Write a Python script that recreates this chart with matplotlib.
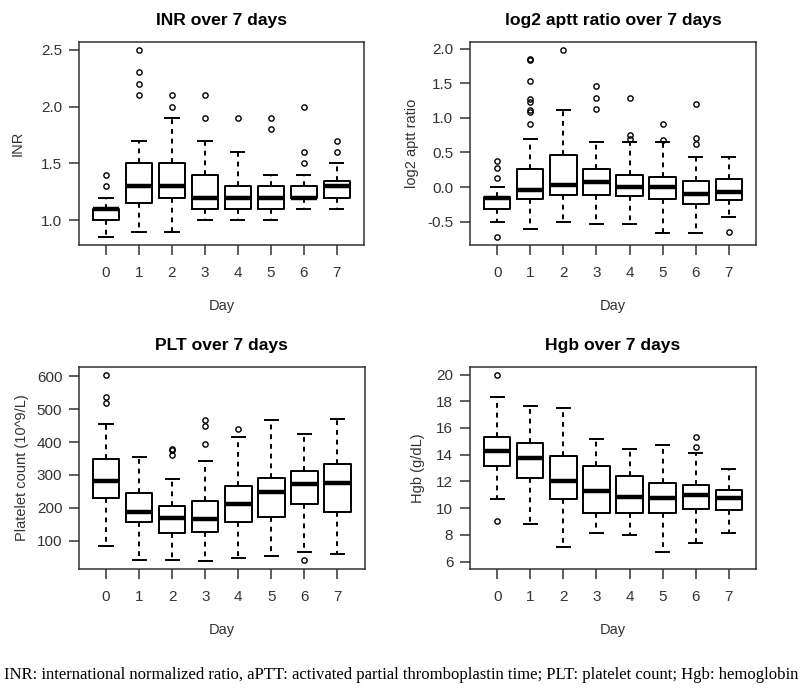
import matplotlib.pyplot as plt

days = [0, 1, 2, 3, 4, 5, 6, 7]

# INR
inr_lo = [0.85, 0.9, 0.9, 1.0, 1.0, 1.0, 1.1, 1.1]
inr_q1 = [1.0, 1.15, 1.2, 1.1, 1.1, 1.1, 1.2, 1.2]
inr_med = [1.1, 1.3, 1.3, 1.2, 1.2, 1.2, 1.2, 1.3]
inr_q3 = [1.1, 1.5, 1.5, 1.4, 1.3, 1.3, 1.3, 1.35]
inr_hi = [1.2, 1.7, 1.9, 1.7, 1.6, 1.4, 1.4, 1.5]
inr_out = [[1.3, 1.4], [2.1, 2.2, 2.3, 2.5], [2.0, 2.1], [1.9, 2.1],
           [1.9], [1.8, 1.9], [1.5, 1.6, 2.0], [1.6, 1.7]]

# log2 aptt ratio
aptt_lo = [-0.50, -0.61, -0.50, -0.54, -0.53, -0.66, -0.66, -0.44]
aptt_q1 = [-0.32, -0.18, -0.11, -0.11, -0.13, -0.18, -0.24, -0.19]
aptt_med = [-0.16, -0.05, 0.03, 0.07, 0.0, 0.0, -0.10, -0.07]
aptt_q3 = [-0.15, 0.26, 0.46, 0.26, 0.18, 0.15, 0.08, 0.11]
aptt_hi = [0.0, 0.70, 1.11, 0.65, 0.65, 0.65, 0.43, 0.43]
aptt_out = [[0.13, 0.27, 0.38, -0.73],
            [0.91, 1.09, 1.11, 1.23, 1.27, 1.53, 1.84, 1.86],
            [1.99], [1.13, 1.29, 1.46], [0.69, 0.75, 1.29],
            [0.68, 0.91], [0.63, 0.71, 1.20], [-0.65]]

# PLT
plt_lo = [83, 40, 40, 37, 46, 53, 67, 60]
plt_q1 = [231, 157, 123, 126, 157, 171, 211, 187]
plt_med = [280, 188, 170, 166, 211, 248, 272, 275]
plt_q3 = [347, 244, 205, 221, 265, 292, 313, 332]
plt_hi = [455, 353, 287, 343, 414, 468, 424, 471]
plt_out = [[518, 538, 605], [], [360, 375, 380], [393, 448, 467],
           [440], [], [40], []]

# Hgb
hgb_lo = [10.7, 8.8, 7.1, 8.1, 8.0, 6.7, 7.35, 8.1]
hgb_q1 = [13.15, 12.25, 10.7, 9.6, 9.6, 9.6, 9.9, 9.85]
hgb_med = [14.3, 13.75, 12.0, 11.25, 10.8, 10.75, 11.0, 10.75]
hgb_q3 = [15.3, 14.9, 13.9, 13.15, 12.4, 11.85, 11.75, 11.35]
hgb_hi = [18.3, 17.65, 17.5, 15.2, 14.4, 14.7, 14.1, 12.9]
hgb_out = [[9.0, 20.0], [], [], [], [], [], [14.6, 15.3], []]

caption = ("INR: international normalized ratio, aPTT: activated partial "
           "thromboplastin time; PLT: platelet count; Hgb: hemoglobin")

plt.rcParams['font.family'] = ['Liberation Sans', 'DejaVu Sans']

fig = plt.figure(figsize=(8, 6.95), dpi=100)

panels = [
    ('INR over 7 days', 'INR', inr_lo, inr_q1, inr_med, inr_q3, inr_hi, inr_out,
     [0.09875, 0.6475, 0.356, 0.292], (0.784, 2.566), [1.0, 1.5, 2.0, 2.5], -0.192),
    ('log2 aptt ratio over 7 days', 'log2 aptt ratio', aptt_lo, aptt_q1, aptt_med,
     aptt_q3, aptt_hi, aptt_out,
     [0.5875, 0.6475, 0.3575, 0.292], (-0.84, 2.10), [-0.5, 0.0, 0.5, 1.0, 1.5, 2.0], -0.18),
    ('PLT over 7 days', 'Platelet count (10^9/L)', plt_lo, plt_q1, plt_med, plt_q3,
     plt_hi, plt_out,
     [0.09875, 0.1813, 0.357, 0.2906], (14, 628), [100, 200, 300, 400, 500, 600], -0.175),
    ('Hgb over 7 days', 'Hgb (g/dL)', hgb_lo, hgb_q1, hgb_med, hgb_q3, hgb_hi, hgb_out,
     [0.5875, 0.1813, 0.3575, 0.2906], (5.44, 20.56), [6, 8, 10, 12, 14, 16, 18, 20], -0.157),
]

txt_col = '#333333'
for title, ylab, lo, q1, med, q3, hi, out, pos, ylim, yt, ylx in panels:
    ax = fig.add_axes(pos)
    stats = []
    for i, d in enumerate(days):
        stats.append({'label': str(d), 'whislo': lo[i], 'q1': q1[i], 'med': med[i],
                      'q3': q3[i], 'whishi': hi[i], 'fliers': out[i]})
    ax.bxp(stats, positions=days, widths=0.8, capwidths=0.4,
           boxprops=dict(color='black', linewidth=1.4),
           medianprops=dict(color='black', linewidth=3.2, solid_capstyle='butt'),
           whiskerprops=dict(color='black', linewidth=1.4, linestyle=(0, (2.5, 2.5))),
           capprops=dict(color='black', linewidth=1.4),
           flierprops=dict(marker='o', markersize=3.8, markerfacecolor='none',
                           markeredgecolor='black', markeredgewidth=1.0))
    ax.set_xlim(-0.82, 7.82)
    ax.set_ylim(*ylim)
    ax.set_yticks(yt)
    ax.set_yticklabels([str(v) for v in yt])
    ax.set_xticks(days)
    ax.set_xticklabels([str(d) for d in days])
    ax.tick_params(direction='out', length=7, width=1.1, labelsize=11,
                   labelcolor=txt_col, color='#333333')
    ax.tick_params(axis='x', pad=8)
    ax.tick_params(axis='y', pad=5)
    for s in ax.spines.values():
        s.set_linewidth(1.1)
        s.set_color('#333333')
    ax.set_title(title, fontsize=12.6, fontweight='bold', pad=12)
    ax.set_xlabel('Day', fontsize=10.5, color=txt_col, labelpad=14)
    ax.set_ylabel(ylab, fontsize=10.5, color=txt_col)
    ax.yaxis.set_label_coords(ylx, 0.5)

fig.text(0.005, 1 - 675 / 695, caption, family=['Liberation Serif', 'DejaVu Serif'],
         fontsize=12, va='center', ha='left')

fig.savefig('out.png', dpi=100)
